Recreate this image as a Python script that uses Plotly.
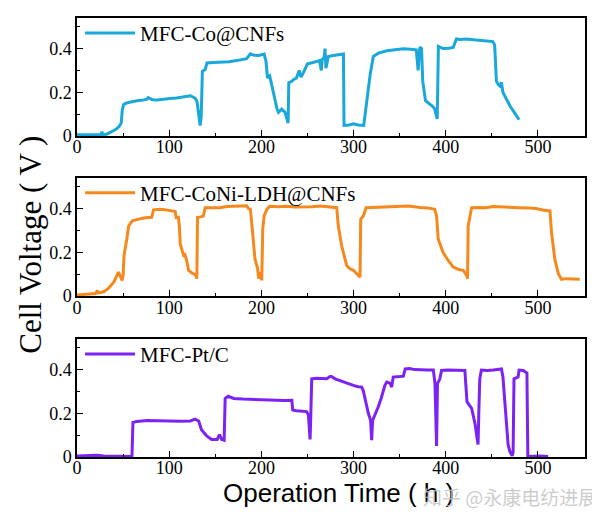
import plotly.graph_objects as go

# ---------------- data ----------------
series_names = ["MFC-Co@CNFs", "MFC-CoNi-LDH@CNFs", "MFC-Pt/C"]
series_colors = ["#1AA8DB", "#F5891E", "#7C22F2"]

co_t = [0, 10, 20, 26, 27, 28, 32, 36, 40, 43, 46, 48, 49, 50.5, 53, 56, 60, 65, 70, 76, 77, 82, 87, 95,
        101, 108, 116, 123, 128, 130, 131, 132.5, 133.6, 134.7, 136, 139, 141, 148, 155, 165, 173, 180,
        184, 188, 190, 193, 197, 200, 203, 205, 206.6, 209, 211, 213, 215, 217, 218.5, 222, 225.7, 227.5,
        229, 229.7, 233, 235, 238, 241, 243, 245.6, 250, 255, 260, 263, 265, 266, 268, 269, 270, 272.6,
        278, 284, 289, 289.6, 295, 300, 305, 311, 312.4, 315, 318, 321.4, 327, 336, 345, 354, 362, 368,
        370, 371.8, 373.7, 375, 378, 382.5, 386, 388, 390.7, 392, 397, 403, 408, 411.6, 416, 422, 428,
        433, 439, 444, 451, 453, 454.9, 457, 458.6, 460.4, 462, 465, 467.6, 470, 473, 476.6, 479.5]
co_v = [0.005, 0.005, 0.005, 0.006, 0.02, 0.006, 0.008, 0.015, 0.025, 0.033, 0.045, 0.06, 0.116, 0.143,
        0.15, 0.153, 0.158, 0.161, 0.163, 0.168, 0.175, 0.166, 0.165, 0.170, 0.172, 0.174, 0.179, 0.184,
        0.173, 0.16, 0.131, 0.08, 0.048, 0.09, 0.296, 0.304, 0.334, 0.336, 0.337, 0.340, 0.345, 0.350,
        0.354, 0.376, 0.372, 0.370, 0.368, 0.372, 0.375, 0.342, 0.266, 0.275, 0.236, 0.2, 0.146, 0.123,
        0.108, 0.123, 0.108, 0.078, 0.059, 0.244, 0.25, 0.259, 0.265, 0.30, 0.27, 0.29, 0.33, 0.335, 0.34,
        0.345, 0.30, 0.35, 0.36, 0.40, 0.31, 0.364, 0.368, 0.372, 0.375, 0.048, 0.05, 0.056, 0.05, 0.048,
        0.10, 0.2, 0.281, 0.364, 0.379, 0.39, 0.394, 0.399, 0.397, 0.394, 0.30, 0.406, 0.40, 0.251, 0.161,
        0.146, 0.135, 0.123, 0.078, 0.41, 0.40, 0.402, 0.405, 0.444, 0.442, 0.444, 0.440, 0.439, 0.437,
        0.435, 0.432, 0.417, 0.251, 0.235, 0.229, 0.245, 0.199, 0.175, 0.153, 0.135, 0.116, 0.093, 0.074]

coni_t = [0, 11, 20, 22, 23, 29, 34, 40, 43, 45, 47, 49, 50, 51, 54, 56, 60, 65, 70, 76, 81, 83, 90, 95,
          101, 106.5, 107.6, 110, 111, 112, 115.6, 117, 119, 121, 124, 126, 129, 130, 130.7, 134, 137, 139,
          148, 155, 162.5, 173, 182, 184, 186, 188, 190, 193, 196, 197, 199, 200.4, 201.5, 203, 206, 209,
          218, 227.5, 236, 245.6, 255, 264, 272, 281.7, 283.4, 287, 292.5, 296, 299.8, 305, 307, 307.7,
          310.6, 313.5, 320, 336, 348, 359.3, 372, 380, 388, 390, 391.8, 397, 402.6, 408, 414, 419, 422.5,
          423.6, 424.3, 426, 428, 436, 444, 451, 465, 480, 490, 498, 505, 513, 514.7, 518.2, 522, 525.5,
          530, 534.5, 540, 545.3]
coni_v = [0.005, 0.008, 0.012, 0.025, 0.015, 0.02, 0.035, 0.065, 0.095, 0.11, 0.09, 0.072, 0.095, 0.186,
          0.26, 0.32, 0.344, 0.351, 0.355, 0.359, 0.36, 0.394, 0.397, 0.395, 0.389, 0.386, 0.359, 0.36,
          0.32, 0.238, 0.186, 0.19, 0.163, 0.118, 0.108, 0.103, 0.095, 0.08, 0.359, 0.362, 0.366, 0.404,
          0.405, 0.404, 0.409, 0.41, 0.41, 0.413, 0.40, 0.397, 0.314, 0.17, 0.125, 0.08, 0.11, 0.072, 0.31,
          0.366, 0.397, 0.41, 0.408, 0.41, 0.407, 0.407, 0.408, 0.412, 0.408, 0.404, 0.321, 0.231, 0.14,
          0.125, 0.118, 0.095, 0.087, 0.351, 0.366, 0.404, 0.405, 0.407, 0.409, 0.412, 0.405, 0.403, 0.397,
          0.366, 0.261, 0.2, 0.163, 0.133, 0.122, 0.118, 0.095, 0.08, 0.321, 0.366, 0.404, 0.405, 0.404,
          0.409, 0.405, 0.404, 0.402, 0.40, 0.393, 0.389, 0.291, 0.17, 0.103, 0.077, 0.08, 0.079, 0.078,
          0.077]

pt_t = [0, 10, 21.7, 29, 40, 47, 59.6, 60.7, 65, 76, 90, 101, 112, 123, 128, 132, 135, 138, 141, 146, 152,
        154.6, 157, 159.6, 160.7, 164, 170, 180, 191, 205, 216.7, 225, 233, 234, 238, 244, 249, 251, 252.8,
        253.5, 254.6, 260, 266, 271, 274.5, 276, 280, 285, 292, 299.8, 305, 308.8, 310.6, 313, 316, 318.5,
        319.6, 320.6, 323, 326.8, 330, 334, 336, 339.5, 341.3, 343, 350, 354, 356, 361, 366, 372, 380,
        386.5, 388.3, 390, 391, 393.6, 395.4, 402, 408, 415, 420.7, 423, 428, 431.6, 435, 436, 436.9,
        438.6, 445, 451.4, 456, 460.4, 462, 465, 467.6, 469.4, 472, 473, 474, 478.4, 479.5, 484, 488, 489,
        495, 502, 511]
pt_v = [0.005, 0.006, 0.008, 0.005, 0.004, 0.002, 0.002, 0.158, 0.163, 0.167, 0.165, 0.163, 0.164, 0.165,
        0.173, 0.165, 0.125, 0.11, 0.095, 0.08, 0.08, 0.102, 0.08, 0.077, 0.268, 0.278, 0.268, 0.265, 0.263,
        0.262, 0.26, 0.259, 0.26, 0.215, 0.212, 0.21, 0.208, 0.193, 0.08, 0.18, 0.358, 0.361, 0.358, 0.358,
        0.369, 0.369, 0.358, 0.35, 0.34, 0.328, 0.322, 0.32, 0.302, 0.25, 0.2, 0.167, 0.077, 0.167, 0.19,
        0.23, 0.27, 0.328, 0.343, 0.338, 0.32, 0.366, 0.368, 0.37, 0.403, 0.405, 0.40, 0.398, 0.398, 0.398,
        0.336, 0.05, 0.336, 0.358, 0.396, 0.398, 0.398, 0.397, 0.396, 0.253, 0.223, 0.155, 0.057, 0.23,
        0.358, 0.398, 0.396, 0.398, 0.40, 0.403, 0.366, 0.185, 0.057, 0.027, 0.005, 0.02, 0.358, 0.366,
        0.398, 0.396, 0.384, 0.002, 0.004, 0.005, 0.002]

x_tick_vals = [0, 100, 200, 300, 400, 500]
y_tick_vals = [0, 0.2, 0.4]
x_range = [0, 551]
y_range = [0, 0.54]

y_title = "Cell Voltage ( V )"
x_title = "Operation Time ( h )"
watermark = "知乎 @永康电纺进展"

# ---------------- figure ----------------
serif = "Liberation Serif"
sans = "Liberation Sans"

domains = [[0.7313, 1.0], [0.3664, 0.6358], [0.0, 0.2687]]
data_sets = [(co_t, co_v), (coni_t, coni_v), (pt_t, pt_v)]
legend_keys = ["legend", "legend2", "legend3"]

fig = go.Figure()
# page body has an 8px margin, so the figure is sized to fit the 600x512 window
layout = dict(
    width=592, height=504,
    margin=dict(l=69, r=15, t=5, b=55),
    paper_bgcolor="white", plot_bgcolor="white",
    font=dict(family=serif, color="black"),
    showlegend=True,
)

for i, ((t, v), name, color) in enumerate(zip(data_sets, series_names, series_colors)):
    n = "" if i == 0 else str(i + 1)
    fig.add_trace(go.Scatter(
        x=t, y=v, mode="lines", name=name,
        line=dict(color=color, width=3),
        xaxis="x" + n, yaxis="y" + n,
        legend=legend_keys[i],
    ))
    axis_common = dict(
        showline=True, linecolor="black", linewidth=1.5, mirror=True,
        ticks="inside", ticklen=6, tickwidth=1.2, tickcolor="black",
        showgrid=False, zeroline=False,
        tickfont=dict(family=serif, size=18, color="black"),
    )
    layout["xaxis" + n] = dict(
        axis_common, range=x_range, tickvals=x_tick_vals,
        anchor="y" + n, ticklabelstandoff=-6,
        minor=dict(ticks="inside", ticklen=3, dtick=50, tick0=0, tickcolor="black", tickwidth=1),
    )
    layout["yaxis" + n] = dict(
        axis_common, range=y_range, tickvals=y_tick_vals,
        domain=domains[i], anchor="x" + n,
        minor=dict(ticks="inside", ticklen=3, dtick=0.1, tick0=0, tickcolor="black", tickwidth=1),
    )
    layout[legend_keys[i]] = dict(
        x=0.006, y=domains[i][1] + 0.012, xanchor="left", yanchor="top",
        bgcolor="rgba(0,0,0,0)", borderwidth=0,
        font=dict(family=serif, size=21, color="black"),
        itemwidth=50,
    )

layout["annotations"] = [
    dict(text=y_title, xref="paper", yref="paper", x=-0.092, y=0.484,
         textangle=-90, showarrow=False, xanchor="center", yanchor="middle",
         font=dict(family=serif, size=31, color="black")),
    dict(text=x_title, xref="paper", yref="paper", x=0.514, y=0,
         yshift=-19, showarrow=False, xanchor="center", yanchor="top",
         font=dict(family=sans, size=26, color="black")),
    dict(text=watermark, xref="paper", yref="paper", x=1.028, y=0,
         yshift=-24, showarrow=False, xanchor="right", yanchor="top",
         font=dict(family="Noto Sans CJK SC", size=19, color="rgba(195,195,195,0.85)")),
]

fig.update_layout(**layout)
fig.write_html("out.html")
